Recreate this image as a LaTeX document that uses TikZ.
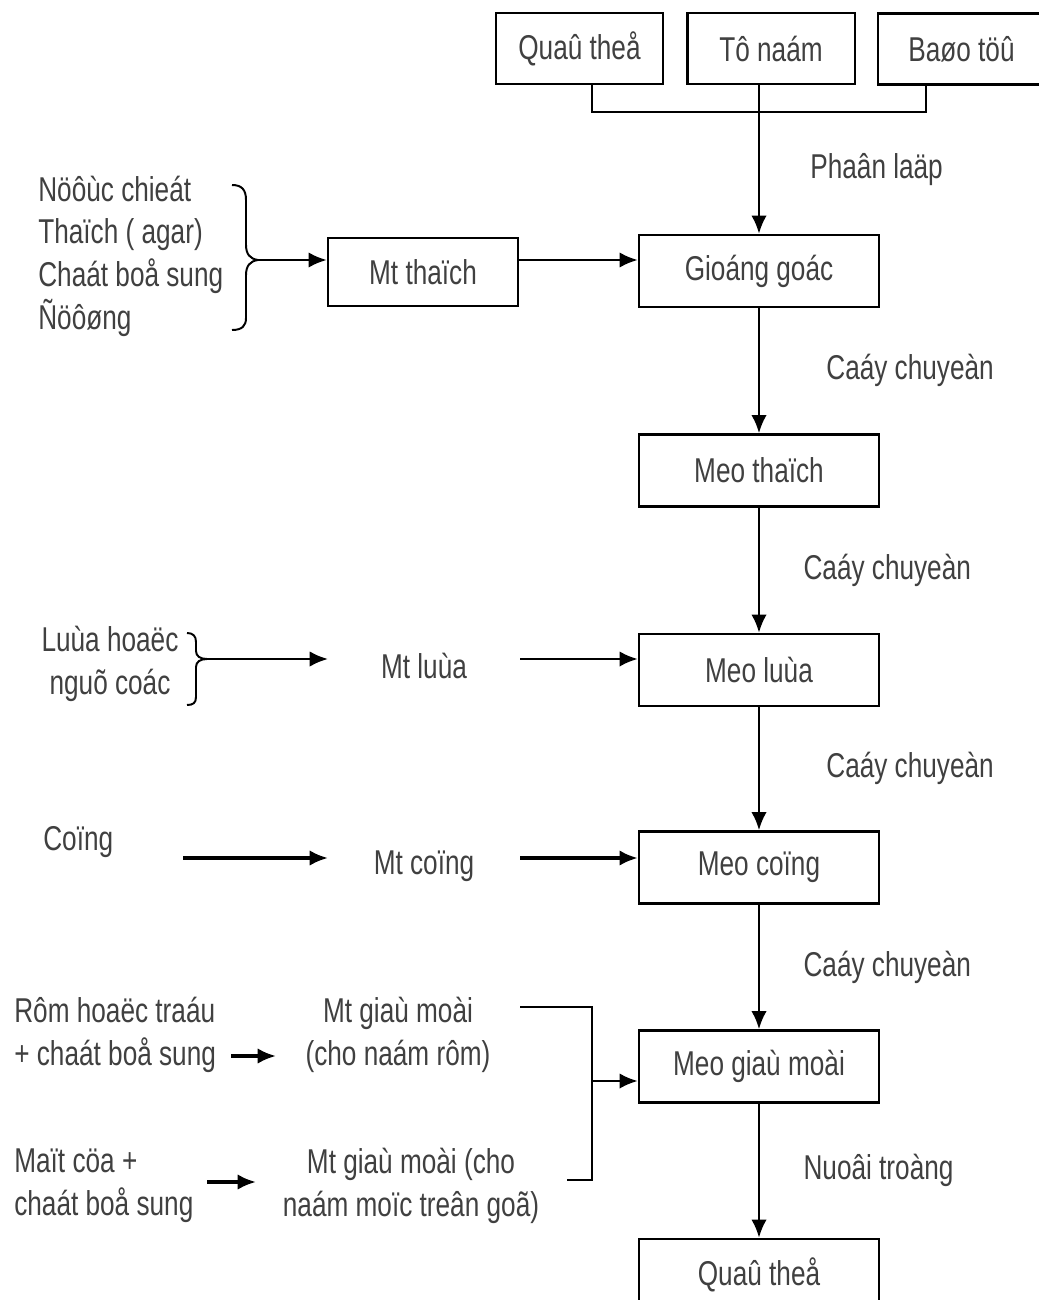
\documentclass[tikz,border=0pt]{standalone}
\usepackage{fontspec}
\setmainfont{Liberation Sans}[FakeStretch=0.76]
\usetikzlibrary{positioning, arrows.meta}

\tikzset{
  box/.style = {draw, line width=1.6pt, text=black!75, minimum width=6cm, minimum height=1.8cm},
  topbox/.style = {box, minimum width=4.18cm, minimum height=1.78cm},
  txt/.style = {text=black!75, inner sep=0pt},
  lab/.style = {txt, anchor=west},
}

\begin{document}
\begin{tikzpicture}[x=0.025cm, y=-0.025cm, >={Latex[length=13pt, width=11pt]}, line width=1.9pt,
    font=\fontsize{24.5}{30.3}\selectfont]
  \useasboundingbox (0,0) rectangle (1038,1300);

  % sources
  \node[topbox] (qt1) at (579.5,48.5) {Quaû theå};
  \node[topbox] (tn) at (771,48.5) {Tô naám};
  \node[topbox] (bt) at (961.5,49) {Baøo töû};

  % main column
  \node[box] (gg) at (759,271) {Gioáng goác};
  \node[box] (mth) at (759,470.5) {Meo thaïch};
  \node[box] (ml) at (759,670) {Meo luùa};
  \node[box] (mc) at (759,867.5) {Meo coïng};
  \node[box] (mg) at (759,1066.5) {Meo giaù moài};
  \node[box] (qt2) at (759,1275) {Quaû theå};

  \coordinate (j1) at (592,112);
  \coordinate (j2) at (926,112);
  \draw[line width=1.3pt] (qt1.south -| j1) -- (j1) -- (j2) -- (bt.south -| j2);
  \draw[->] (tn.south -| gg.north) -- node[lab, pos=0.57, xshift=1.25cm] {Phaân laäp} (gg.north);

  \path[->]
    (gg) edge node[lab, xshift=1.65cm] {Caáy chuyeàn} (mth)
    (mth) edge node[lab, xshift=1.08cm] {Caáy chuyeàn} (ml)
    (ml) edge node[lab, xshift=1.65cm] {Caáy chuyeàn} (mc)
    (mc) edge node[lab, xshift=1.08cm] {Caáy chuyeàn} (mg)
    (mg) edge node[lab, xshift=1.08cm] {Nuoâi troàng} (qt2)
  ;

  % thach
  \node[box, minimum width=4.75cm, minimum height=1.7cm] (mtt) at (423,272) {Mt thaïch};
  \node[txt, align=left, anchor=west] (nl) at (37,256) {Nöôùc chieát\\Thaïch ( agar)\\Chaát boå sung\\Ñöôøng};
  \draw[line width=1.4pt] (232,185) .. controls (242,185) and (246,190) .. (246,200) -- (246,245)
    .. controls (246,254) and (250,259) .. (258,260) .. controls (250,261) and (246,266) .. (246,275)
    -- (246,318) .. controls (246,326) and (242,330) .. (232,330);
  \coordinate (b1) at (258,260);
  \draw[->] (b1) -- (mtt.west |- b1);
  \draw[->] (mtt.east |- b1) -- (gg.west |- b1);

  % lua
  \node[txt, align=center] (lh) at (110,664) {Luùa hoaëc\\nguõ coác};
  \draw[line width=1.4pt] (187,633) .. controls (193,633) and (196,636) .. (196,642) -- (196,651)
    .. controls (196,656) and (200,659) .. (207,659) .. controls (200,659) and (196,662) .. (196,667)
    -- (196,697) .. controls (196,703) and (193,705) .. (187,705);
  \coordinate (b2) at (207,659);
  \node[txt] (mtl) at (424,666) {Mt luùa};
  \coordinate (l1) at (328,659);
  \coordinate (l2) at (520,659);
  \draw[->] (b2) -- (l1);
  \draw[->] (l2) -- (ml.west |- l2);

  % cong
  \node[txt, anchor=west] (cg) at (42,842) {Coïng};
  \node[txt] (mtc) at (424,866) {Mt coïng};
  \coordinate (c1) at (183,858);
  \coordinate (c2) at (328,858);
  \coordinate (c3) at (520,858);
  \draw[->, line width=2.4pt] (c1) -- (c2);
  \draw[->, line width=2.4pt] (c3) -- (mc.west |- c3);

  % gia moi
  \node[txt, align=left, anchor=west] (rh) at (13,1035) {Rôm hoaëc traáu\\+ chaát boå sung};
  \node[txt, align=center] (mgr) at (398,1035) {Mt giaù moài\\(cho naám rôm)};
  \node[txt, align=left, anchor=west] (mcu) at (13,1186) {Maït cöa +\\chaát boå sung};
  \node[txt, align=center] (mgo) at (411,1186) {Mt giaù moài (cho\\naám moïc treân goã)};
  \coordinate (r1) at (231,1056);
  \coordinate (r2) at (276,1056);
  \coordinate (s1) at (207,1182);
  \coordinate (s2) at (256,1182);
  \draw[->, line width=2.4pt] (r1) -- (r2);
  \draw[->, line width=2.4pt] (s1) -- (s2);
  \coordinate (k1) at (520,1007);
  \coordinate (k2) at (592,1007);
  \coordinate (k3) at (592,1180);
  \coordinate (k4) at (567,1180);
  \coordinate (k5) at (592,1081);
  \draw[line width=1.5pt] (k1) -- (k2) -- (k3) -- (k4);
  \draw[->] (k5) -- (mg.west |- k5);
\end{tikzpicture}
\end{document}
